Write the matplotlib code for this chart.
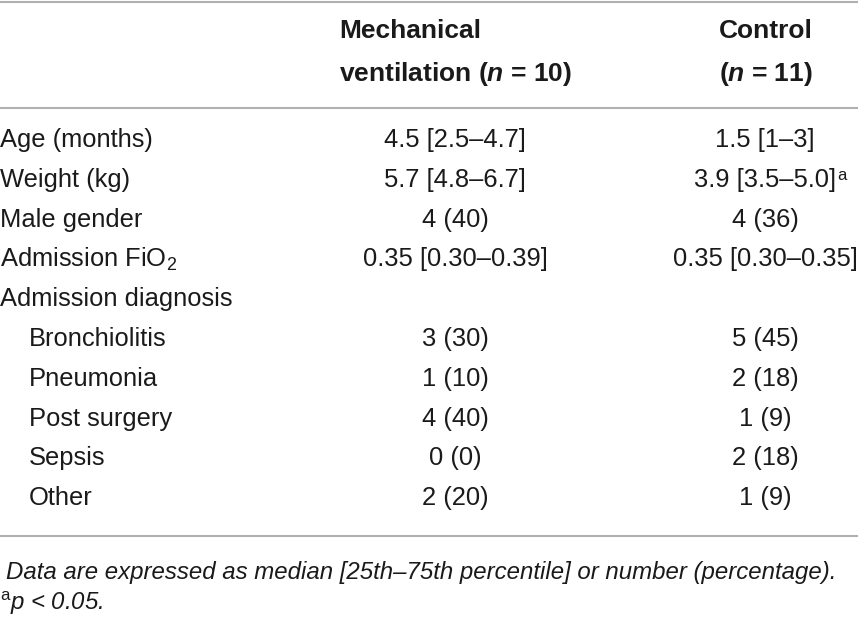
import matplotlib
matplotlib.use('Agg')
import matplotlib.pyplot as plt

# table content
rowLabels = ['Age (months)', 'Weight (kg)', 'Male gender', 'Admission FiO$_2$',
             'Admission diagnosis', 'Bronchiolitis', 'Pneumonia', 'Post surgery',
             'Sepsis', 'Other']
rowIndent = [0, 0, 0, 0, 0, 1, 1, 1, 1, 1]
ventValues = ['4.5 [2.5–4.7]', '5.7 [4.8–6.7]', '4 (40)', '0.35 [0.30–0.39]', '',
              '3 (30)', '1 (10)', '4 (40)', '0 (0)', '2 (20)']
controlValues = ['1.5 [1–3]', '3.9 [3.5–5.0]', '4 (36)', '0.35 [0.30–0.35]', '',
                 '5 (45)', '2 (18)', '1 (9)', '2 (18)', '1 (9)']
controlMarks = ['', 'a', '', '', '', '', '', '', '', '']
headerVent = ['Mechanical', r'ventilation ($\mathbfit{n}$ = 10)']
headerControl = ['Control', r'($\mathbfit{n}$ = 11)']
footNotes = ['Data are expressed as median [25th–75th percentile] or number (percentage).',
             r'$^{\mathrm{a}}$p < 0.05.']

fontName = 'Liberation Sans'
plt.rcParams['font.family'] = [fontName, 'DejaVu Sans']
plt.rcParams['mathtext.fontset'] = 'custom'
plt.rcParams['mathtext.rm'] = fontName
plt.rcParams['mathtext.it'] = fontName + ':italic'
plt.rcParams['mathtext.bf'] = fontName + ':bold'
plt.rcParams['mathtext.bfit'] = fontName + ':italic:bold'

textColor = '#1a1a1a'
lineColor = '#b0b0b0'
fs = 18.4
fsHead = 19
fsFoot = 17.3

fig = plt.figure(figsize=(8.58, 6.2), dpi=100)
ax = fig.add_axes([0, 0, 1, 1])
ax.set_xlim(0, 858)
ax.set_ylim(620, 0)
ax.axis('off')

# rules
for yLine in [1.5, 108, 536]:
    ax.plot([0, 858], [yLine, yLine], color=lineColor, lw=1.5, solid_capstyle='butt')

# header
ventX = 339
controlX = 719
for i, (hv, hc) in enumerate(zip(headerVent, headerControl)):
    yH = 31 + i * 43
    ax.text(ventX, yH, hv, fontsize=fsHead, fontweight='bold', ha='left', va='center', color=textColor)
    ax.text(controlX, yH, hc, fontsize=fsHead, fontweight='bold', ha='left', va='center', color=textColor)

# body
ventCenter = 455
controlCenter = 765
rowY0 = 140
rowStep = 39.8
for i, label in enumerate(rowLabels):
    yR = rowY0 + i * rowStep
    ax.text(0 + 29 * rowIndent[i], yR, label, fontsize=fs, ha='left', va='center', color=textColor)
    ax.text(ventCenter, yR, ventValues[i], fontsize=fs, ha='center', va='center', color=textColor)
    t = ax.text(controlCenter, yR, controlValues[i], fontsize=fs, ha='center', va='center', color=textColor)
    if controlMarks[i]:
        ax.annotate(controlMarks[i], xy=(1, 1), xycoords=t, xytext=(0.5, 0), textcoords='offset points',
                    fontsize=12, ha='left', va='top', color=textColor)

# footnotes
ax.text(6, 572, footNotes[0], fontsize=fsFoot, style='italic', ha='left', va='center', color=textColor)
ax.text(0, 603, footNotes[1], fontsize=fsFoot, style='italic', ha='left', va='center', color=textColor)

fig.savefig('out.png', dpi=100)
